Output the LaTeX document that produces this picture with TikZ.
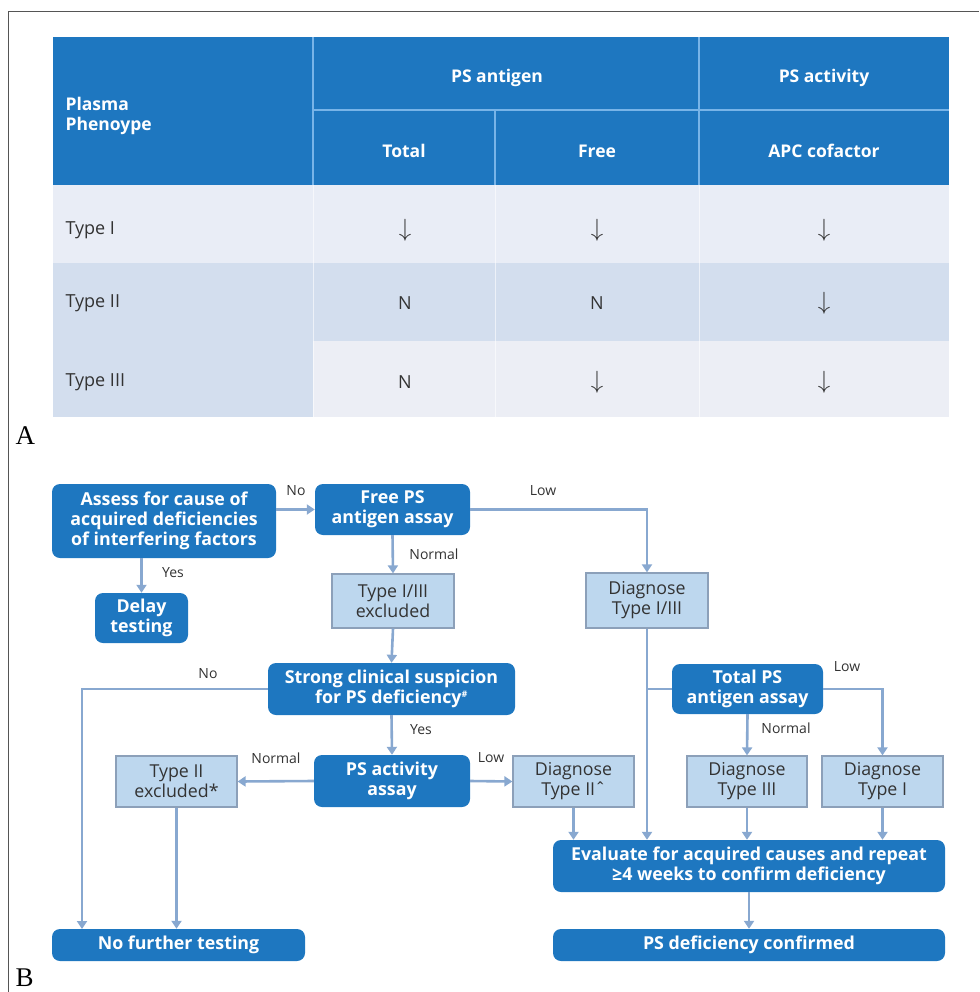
\documentclass[tikz,border=0pt]{standalone}
\usepackage{fontspec}
\setmainfont{Open Sans}
\newfontfamily\panelfont{Liberation Serif}
\usetikzlibrary{arrows.meta, calc}

\definecolor{psblue}{RGB}{30,119,192}
\definecolor{pslight}{RGB}{189,215,238}
\definecolor{psedge}{RGB}{140,160,185}
\definecolor{psflow}{RGB}{136,168,208}
\definecolor{psrule}{RGB}{120,180,232}
\definecolor{rowA}{RGB}{233,237,246}
\definecolor{rowB}{RGB}{211,222,238}
\definecolor{rowC}{RGB}{236,238,245}
\definecolor{pstext}{RGB}{51,51,51}
\definecolor{frame}{RGB}{85,85,85}

\newcommand{\dnarrow}{{\fontsize{25}{25}\selectfont$\downarrow$}}

\tikzset{
  darkbox/.style={fill=psblue, rounded corners=8pt, text=white, align=center, inner sep=0pt,
    font=\fontsize{17.8}{20}\selectfont\bfseries},
  lightbox/.style={draw=psedge, line width=1.2pt, fill=pslight, text=pstext, align=center, inner sep=0pt,
    font=\fontsize{17.8}{20}\selectfont},
  flowlbl/.style={fill=white, text=pstext, inner sep=2pt, font=\fontsize{14}{16}\selectfont},
  flow/.style={draw=psflow, line width=2.6pt, -{Triangle[length=8pt,width=10pt]}},
  link/.style={draw=psflow, line width=2.6pt},
  hdr/.style={text=white, font=\fontsize{17.5}{20}\selectfont\bfseries},
  cell/.style={text=pstext, font=\fontsize{18}{20}\selectfont},
}

\begin{document}
\begin{tikzpicture}[x=1pt, y=-1pt]
    \useasboundingbox (0,0) rectangle (979,992);
    \draw[frame, line width=1.3pt] (8.5,992) -- (8.5,11.5) -- (979,11.5);

    % Tabella A: intestazione
    \fill[psblue] (53,37) rectangle (949,185);
    \draw[psrule, line width=2pt] (313,110) -- (949,110);
    \draw[psrule, line width=1.5pt] (313,37) -- (313,185);
    \draw[psrule, line width=1.5pt] (495,110) -- (495,185);
    \draw[psrule, line width=1.5pt] (699,37) -- (699,185);
    \node[hdr, anchor=west, align=left] (hdrPlasma) at (62,116) {Plasma\\Phenoype};
    \node[hdr] (hdrAntigen) at (497,78) {PS antigen};
    \node[hdr] (hdrActivity) at (824,78) {PS activity};
    \node[hdr] (hdrTotal) at (404,151) {Total};
    \node[hdr] (hdrFree) at (597,151) {Free};
    \node[hdr] (hdrApc) at (824,151) {APC cofactor};

    % Tabella A: righe
    \fill[rowA] (53,185) rectangle (949,263);
    \fill[rowB] (53,263) rectangle (949,341);
    \fill[rowB] (53,341) rectangle (313,417);
    \fill[rowC] (313,341) rectangle (949,417);
    \foreach \xs in {313,495,699}
        \draw[white, line width=1pt, opacity=0.6] (\xs,185) -- (\xs,417);
    \foreach \row/\ypos/\ctot/\cfree/\capc in {I/230/\dnarrow/\dnarrow/\dnarrow, II/303/N/N/\dnarrow, III/382/N/\dnarrow/\dnarrow} {
        \node[cell, anchor=west] (type\row) at (62,\ypos) {Type \row};
        \node[cell] (tot\row) at (405,\ypos) {\ctot};
        \node[cell] (fre\row) at (597,\ypos) {\cfree};
        \node[cell] (apc\row) at (824,\ypos) {\capc};
    }
    \node[font=\panelfont\fontsize{27}{27}\selectfont, anchor=west] (panelA) at (12,436) {A};

    % Schema B: blocchi
    \node[darkbox, minimum width=224pt, minimum height=74pt] (assess) at (164,521) {Assess for cause of\\acquired deficiencies\\of interfering factors};
    \node[darkbox, minimum width=155pt, minimum height=51pt] (freeag) at (392.5,509.5) {Free PS\\antigen assay};
    \node[darkbox, minimum width=93pt, minimum height=50pt] (delay) at (141.5,618) {Delay\\testing};
    \node[lightbox, minimum width=122pt, minimum height=54pt] (exclOT) at (393,601) {Type I/III\\excluded};
    \node[lightbox, minimum width=122pt, minimum height=55pt] (diagOT) at (647,600.5) {Diagnose\\Type I/III};
    \node[darkbox, minimum width=247pt, minimum height=52pt] (strong) at (391.5,689) {Strong clinical suspicion\\for PS deficiency\textsuperscript{\fontsize{9}{9}\selectfont\#}};
    \node[darkbox, minimum width=151pt, minimum height=50pt] (totalag) at (747.5,689) {Total PS\\antigen assay};
    \node[darkbox, minimum width=156pt, minimum height=52pt] (activity) at (392,781) {PS activity\\assay};
    \node[lightbox, minimum width=121pt, minimum height=51pt] (exclTwo) at (176.5,781.5) {Type II\\excluded*};
    \node[lightbox, minimum width=121pt, minimum height=51pt] (diagTwo) at (573.5,781.5) {Diagnose\\Type IIˆ};
    \node[lightbox, minimum width=120pt, minimum height=51pt] (diagThree) at (747,781.5) {Diagnose\\Type III};
    \node[lightbox, minimum width=121pt, minimum height=51pt] (diagOne) at (882.5,781.5) {Diagnose\\Type I};
    \node[darkbox, minimum width=392pt, minimum height=52pt] (evaluate) at (749,866) {Evaluate for acquired causes and repeat\\≥4 weeks to confirm deficiency};
    \node[darkbox, minimum width=392pt, minimum height=32pt] (confirmed) at (749,945) {PS deficiency confirmed};
    \node[darkbox, minimum width=253pt, minimum height=32pt] (nofurther) at (178.5,945) {No further testing};
    \coordinate (noDrop) at (82,929);

    % Schema B: frecce
    \draw[flow] (assess.east |- freeag.west) -- (freeag.west);
    \draw[flow] (delay.north |- assess.south) -- (delay.north);
    \draw[flow] (freeag.south) -- (exclOT.north);
    \draw[flow] (freeag.east) -| (diagOT.north);
    \draw[flow] (exclOT.south) -- (strong.north);
    \draw[flow] (diagOT.south) -- (diagOT.south |- evaluate.north);
    \draw[link] (totalag.west) -- (totalag.west -| diagOT.south);
    \draw[flow] (strong.west) -| (noDrop);
    \draw[flow] (strong.south) -- (activity.north);
    \draw[flow] (activity.west) -- (exclTwo.east);
    \draw[flow] (activity.east) -- (diagTwo.west);
    \draw[flow] (exclTwo.south) -- (exclTwo.south |- nofurther.north);
    \draw[flow] (diagTwo.south) -- (diagTwo.south |- evaluate.north);
    \draw[flow] (totalag.south) -- (diagThree.north);
    \draw[flow] (totalag.east) -| (diagOne.north);
    \draw[flow] (diagThree.south) -- (diagThree.south |- evaluate.north);
    \draw[flow] (diagOne.south) -- (diagOne.south |- evaluate.north);
    \draw[flow] (evaluate.south) -- (confirmed.north);

    % Etichette
    \node[flowlbl] (lblNoA) at (296,491) {No};
    \node[flowlbl] (lblYesA) at (173,573) {Yes};
    \node[flowlbl] (lblNormalA) at (434,554) {Normal};
    \node[flowlbl] (lblLowA) at (543,491) {Low};
    \node[flowlbl] (lblNoB) at (208,674) {No};
    \node[flowlbl] (lblYesB) at (421,730) {Yes};
    \node[flowlbl] (lblNormalB) at (276,758) {Normal};
    \node[flowlbl] (lblLowB) at (491,758) {Low};
    \node[flowlbl] (lblLowC) at (847,667) {Low};
    \node[flowlbl] (lblNormalC) at (786,728) {Normal};
    \node[font=\panelfont\fontsize{27}{27}\selectfont, anchor=west] (panelB) at (12,978) {B};
\end{tikzpicture}
\end{document}
